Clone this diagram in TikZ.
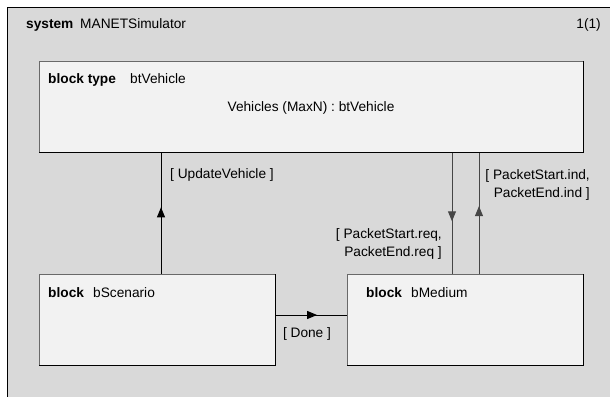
\documentclass[tikz,border=0pt]{standalone}
\usepackage{fontspec}
\setmainfont{Liberation Sans}
\usetikzlibrary{decorations.markings,arrows.meta}
\definecolor{framegray}{RGB}{217,217,217}
\definecolor{boxfill}{RGB}{242,242,242}
\definecolor{boxedge}{RGB}{105,105,105}
\definecolor{linegray}{RGB}{70,70,70}
\tikzset{
  sdlbox/.style={draw=boxedge, fill=boxfill, line width=0.8pt, rectangle, inner sep=0pt, anchor=north west},
  lbl/.style={font=\fontsize{13.7}{17.8}\selectfont, inner sep=0pt, anchor=base west},
  kw/.style={lbl, font=\fontsize{13.7}{17.8}\selectfont\bfseries},
  sig/.style={line width=1pt},
  shadowedge/.style={line width=1.3pt, draw=black},
  arrowat/.style={postaction={decorate}, decoration={markings, mark=at position #1 with {\arrow{Triangle[width=8pt,length=10pt]}}}},
}
\begin{document}
\begin{tikzpicture}[x=1pt,y=-1pt]
\useasboundingbox (0,0) rectangle (610,396);
\clip (0,0) rectangle (610,396);
\fill[white] (0,0) rectangle (610,396);
% system frame
\node[draw=black, line width=1.4pt, fill=framegray, rectangle, inner sep=0pt, anchor=north west,
      minimum width=620pt, minimum height=400pt] (sys) at (7,7) {};
% blocks
\node[sdlbox, minimum width=544pt, minimum height=91pt] (veh) at (39,61) {};
\node[sdlbox, minimum width=236pt, minimum height=91pt] (scen) at (39,274) {};
\node[sdlbox, minimum width=236pt, minimum height=91pt] (med) at (347,274) {};
\draw[shadowedge] (veh.north east) -- (veh.south east) -- (veh.south west);
\draw[shadowedge] (scen.north east) -- (scen.south east) -- (scen.south west);
\draw[shadowedge] (med.north east) -- (med.south east) -- (med.south west);
% texts
\node[kw] (syskw) at (26,29) {system};
\node[lbl] (sysname) at (80,29) {MANETSimulator};
\node[lbl, anchor=base east] (page) at (601,29) {1(1)};
\node[kw] (vehkw) at (48,84) {block type};
\node[lbl] (vehname) at (130,84) {btVehicle};
\node[lbl, anchor=base] (vehinst) at (311,111) {Vehicles (MaxN) : btVehicle};
\node[kw] (scenkw) at (48,297) {block};
\node[lbl] (scenname) at (93,297) {bScenario};
\node[kw] (medkw) at (366,297) {block};
\node[lbl] (medname) at (411,297) {bMedium};
% connector x positions
\coordinate (xu) at (161,0);
\coordinate (xd) at (452,0);
\coordinate (xi) at (479,0);
\coordinate (yd) at (0,315);
\draw[sig, arrowat=0.55] (scen.north -| xu) -- (veh.south -| xu);
\draw[sig, draw=linegray, arrowat=0.565] (veh.south -| xd) -- (med.north -| xd);
\draw[sig, draw=linegray, arrowat=0.56] (med.north -| xi) -- (veh.south -| xi);
\draw[sig, arrowat=0.58] (scen.east |- yd) -- (med.west |- yd);
% signal lists
\node[lbl] (lupd) at (170,178) {[ UpdateVehicle ]};
\node[lbl, anchor=base] (ldone) at (307,337) {[ Done ]};
\node[lbl, align=right, anchor=base east] (lreq) at (442,256) {[ PacketStart.req,\\PacketEnd.req ]};
\node[lbl, align=right, anchor=base east] (lind) at (590,197) {[ PacketStart.ind,\\PacketEnd.ind ]};
\end{tikzpicture}
\end{document}
